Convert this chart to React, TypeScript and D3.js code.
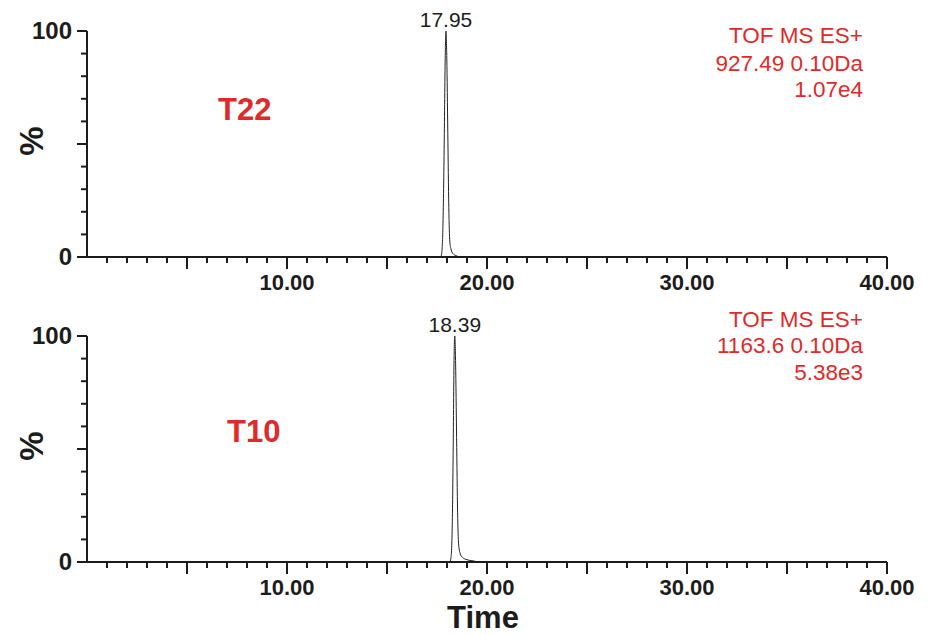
import React from "react";
import * as d3 from "d3";

// ---- data ----
const panelNames = ["T22", "T10"];
const peakTimes = ["17.95", "18.39"];
const annotationLines1 = ["TOF MS ES+", "927.49 0.10Da", "1.07e4"];
const annotationLines2 = ["TOF MS ES+", "1163.6 0.10Da", "5.38e3"];

const timeT22 = [0, 17.68, 17.74, 17.8, 17.86, 17.91, 17.95, 17.99, 18.04, 18.09, 18.14, 18.2, 18.3, 18.45, 18.65, 40];
const intensityT22 = [0, 0, 2, 15, 50, 88, 100, 88, 55, 22, 7, 3.5, 1.5, 0.6, 0, 0];

const timeT10 = [0, 18.14, 18.2, 18.26, 18.31, 18.35, 18.39, 18.43, 18.48, 18.53, 18.58, 18.65, 18.78, 19.0, 19.3, 19.65, 40];
const intensityT10 = [0, 0, 2, 15, 50, 88, 100, 88, 55, 22, 8, 4, 2, 1, 0.5, 0, 0];

const xTickLabels = [10, 20, 30, 40];
const yTickLabels = [0, 100];

const FONT = "'Liberation Sans', Arial, Helvetica, sans-serif";
const RED = "#e02a2a";
const INK = "#1c1c1c";

type PanelProps = {
  times: number[];
  values: number[];
  yTop: number;
  yBottom: number;
  name: string;
  nameX: number;
  nameY: number;
  peakLabel: string;
  annot: string[];
  annotBaselines: number[];
};

const x = d3.scaleLinear().domain([0, 40]).range([87, 887]);

function Panel(p: PanelProps) {
  const y = d3.scaleLinear().domain([0, 100]).range([p.yBottom, p.yTop]);
  const pts = p.times.map((t, i) => [t, p.values[i]] as [number, number]);
  const line = d3
    .line<[number, number]>()
    .x((d) => x(d[0]))
    .y((d) => y(d[1]))
    .curve(d3.curveMonotoneX);
  const peakIdx = p.values.indexOf(d3.max(p.values) as number);
  const peakT = p.times[peakIdx];
  const xTicks = d3.range(1, 41);
  const yTicks = d3.range(0, 101, 10);
  const x0 = x(0);
  const yMid = (p.yTop + p.yBottom) / 2;
  return (
    <g>
      {/* trace */}
      <path d={line(pts) || ""} fill="none" stroke="#222" strokeWidth={1} />
      {/* axes */}
      <line x1={x0} x2={x0} y1={p.yTop} y2={p.yBottom} stroke={INK} strokeWidth={2} />
      <line x1={x0 - 1} x2={x(40)} y1={p.yBottom} y2={p.yBottom} stroke={INK} strokeWidth={2} />
      {yTicks.map((v) => (
        <line
          key={"yt" + v}
          x1={x0 - (v % 50 === 0 ? 10 : 6)}
          x2={x0}
          y1={y(v)}
          y2={y(v)}
          stroke={INK}
          strokeWidth={2}
        />
      ))}
      {xTicks.map((t) => (
        <line
          key={"xt" + t}
          x1={x(t)}
          x2={x(t)}
          y1={p.yBottom}
          y2={p.yBottom + (t % 5 === 0 ? 12 : 6)}
          stroke={INK}
          strokeWidth={2}
        />
      ))}
      {xTickLabels.map((t) => (
        <text
          key={"xl" + t}
          x={x(t)}
          y={p.yBottom + 33}
          textAnchor="middle"
          fontFamily={FONT}
          fontWeight="bold"
          fontSize={22}
          fill={INK}
        >
          {d3.format(".2f")(t)}
        </text>
      ))}
      {yTickLabels.map((v) => (
        <text
          key={"yl" + v}
          x={72}
          y={y(v) + 8}
          textAnchor="end"
          fontFamily={FONT}
          fontWeight="bold"
          fontSize={24}
          fill={INK}
        >
          {v}
        </text>
      ))}
      <text
        transform={`translate(43,${yMid - 3}) rotate(-90)`}
        textAnchor="middle"
        fontFamily={FONT}
        fontWeight="bold"
        fontSize={33}
        fill={INK}
      >
        %
      </text>
      <text x={p.nameX} y={p.nameY} fontFamily={FONT} fontWeight="bold" fontSize={31} fill={RED}>
        {p.name}
      </text>
      <text
        x={x(peakT)}
        y={y(100) - 4}
        textAnchor="middle"
        fontFamily={FONT}
        fontSize={21}
        fill={INK}
      >
        {p.peakLabel}
      </text>
      {p.annot.map((s, i) => (
        <text
          key={"an" + i}
          x={863}
          y={p.annotBaselines[i]}
          textAnchor="end"
          fontFamily={FONT}
          fontSize={22.5}
          fill={RED}
        >
          {s}
        </text>
      ))}
    </g>
  );
}

export default function App() {
  return (
    <svg
      width={934}
      height={636}
      style={{ position: "absolute", left: 0, top: 0, background: "#fff" }}
    >
      <rect width={934} height={636} fill="#fff" />
      <Panel
        times={timeT22}
        values={intensityT22}
        yTop={31}
        yBottom={257}
        name={panelNames[0]}
        nameX={218}
        nameY={120}
        peakLabel={peakTimes[0]}
        annot={annotationLines1}
        annotBaselines={[43, 71, 97]}
      />
      <Panel
        times={timeT10}
        values={intensityT10}
        yTop={336}
        yBottom={562}
        name={panelNames[1]}
        nameX={227}
        nameY={442}
        peakLabel={peakTimes[1]}
        annot={annotationLines2}
        annotBaselines={[327, 353, 380]}
      />
      <text x={483} y={628} textAnchor="middle" fontFamily={FONT} fontWeight="bold" fontSize={31} fill={INK}>
        Time
      </text>
    </svg>
  );
}
